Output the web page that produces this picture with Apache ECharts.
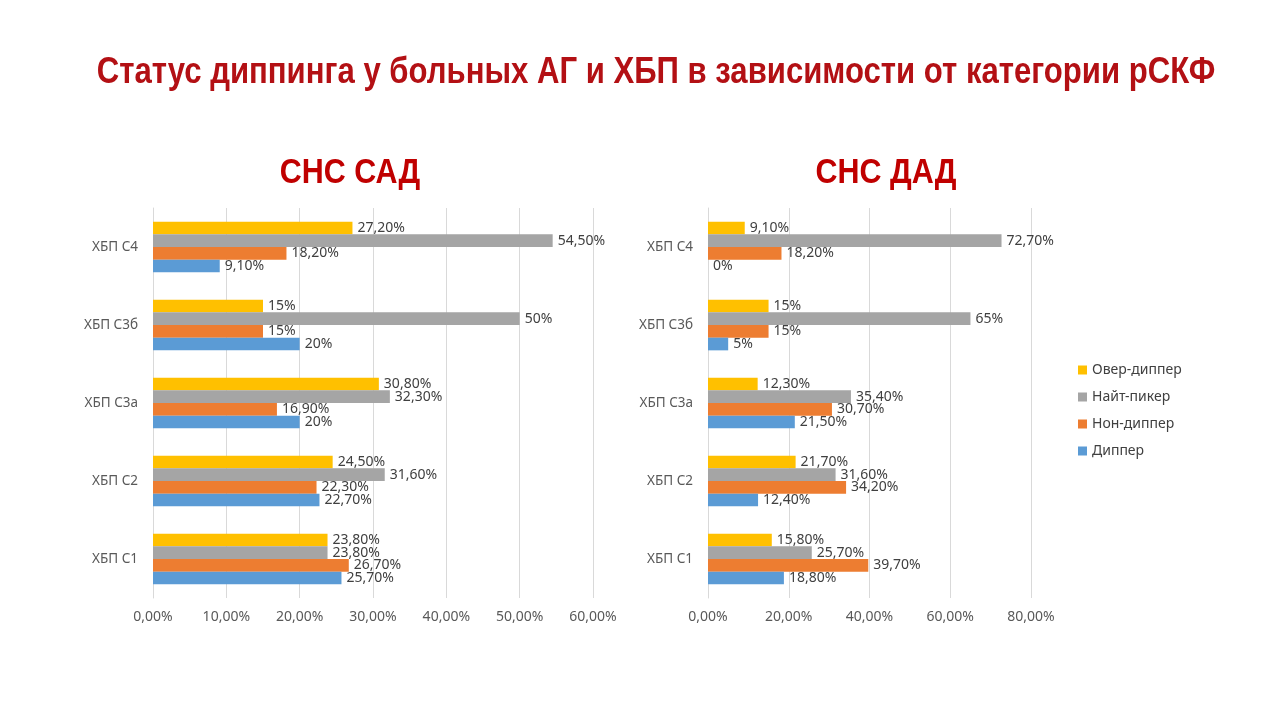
<!DOCTYPE html>
<html lang="ru">
<head>
    <meta charset="UTF-8">
    <title>Статус диппинга</title>
    <script type="text/javascript" src="https://cdn.jsdelivr.net/npm/echarts@6/dist/echarts.min.js"></script>
    <style>
        html, body { margin: 0; padding: 0; background: #ffffff; }
        #main { width: 1280px; height: 720px; }
    </style>
</head>
<body>
<div id="main"></div>
<script>
    // категории снизу вверх
    let categories = ['ХБП С1', 'ХБП С2', 'ХБП С3а', 'ХБП С3б', 'ХБП С4'];
    let seriesNames = ['Овер-диппер', 'Найт-пикер', 'Нон-диппер', 'Диппер'];

    // СНС САД
    let sadOverDipper = [23.8, 24.5, 30.8, 15, 27.2];
    let sadNightPeaker = [23.8, 31.6, 32.3, 50, 54.5];
    let sadNonDipper = [26.7, 22.3, 16.9, 15, 18.2];
    let sadDipper = [25.7, 22.7, 20, 20, 9.1];

    // СНС ДАД
    let dadOverDipper = [15.8, 21.7, 12.3, 15, 9.1];
    let dadNightPeaker = [25.7, 31.6, 35.4, 65, 72.7];
    let dadNonDipper = [39.7, 34.2, 30.7, 15, 18.2];
    let dadDipper = [18.8, 12.4, 21.5, 5, 0];

    let colors = ['#FFC000', '#A5A5A5', '#ED7D31', '#5B9BD5'];

    function pct(v) {
        if (Number.isInteger(v)) return v + '%';
        return v.toFixed(2).replace('.', ',') + '%';
    }

    let txtFont = '"Noto Sans", sans-serif';
    let headFont = 'bold 36px "Liberation Sans", Arial, sans-serif';
    let subFont = 'bold 35px "Liberation Sans", Arial, sans-serif';

    function makeSeries(name, data, idx, color) {
        return {
            name: name,
            type: 'bar',
            xAxisIndex: idx,
            yAxisIndex: idx,
            data: data,
            barGap: '0%',
            barCategoryGap: '35%',
            itemStyle: {color: color},
            label: {
                show: true,
                position: 'right',
                distance: 5,
                color: '#404040',
                fontSize: 14,
                fontFamily: txtFont,
                formatter: p => pct(p.value)
            }
        };
    }

    function xAxis(idx, max, interval) {
        return {
            type: 'value',
            gridIndex: idx,
            min: 0,
            max: max,
            interval: interval,
            axisLine: {show: false},
            axisTick: {show: false},
            splitLine: {lineStyle: {color: '#d9d9d9'}},
            axisLabel: {
                color: '#595959',
                fontSize: 14,
                fontFamily: txtFont,
                margin: 12,
                formatter: v => v.toFixed(2).replace('.', ',') + '%'
            }
        };
    }

    function yAxis(idx) {
        return {
            type: 'category',
            gridIndex: idx,
            data: categories,
            axisLine: {lineStyle: {color: '#d9d9d9'}},
            axisTick: {show: false},
            axisLabel: {color: '#595959', fontSize: 13.5, fontFamily: txtFont, margin: 15}
        };
    }

    // заголовки (узкий жирный шрифт — сжимаем по горизонтали)
    function heading(text, x, y, font, sx, color) {
        return {
            type: 'text',
            x: x, y: y,
            scaleX: sx,
            style: {text: text, x: 0, y: 0, font: font, fill: color,
                align: 'center', verticalAlign: 'middle'}
        };
    }

    var myChart = echarts.init(document.getElementById('main'));
    var option = {
        backgroundColor: '#ffffff',
        animation: false,
        graphic: [
            heading('Статус диппинга у больных АГ и ХБП в зависимости от категории рСКФ', 656, 73, headFont, 0.864, '#B31014'),
            heading('СНС САД', 350, 173, subFont, 0.87, '#C00000'),
            heading('СНС ДАД', 886, 173, subFont, 0.87, '#C00000')
        ],
        legend: {
            orient: 'vertical',
            left: 1073,
            top: 358,
            itemGap: 13,
            itemWidth: 9,
            itemHeight: 9,
            icon: 'rect',
            data: seriesNames,
            textStyle: {color: '#404040', fontSize: 14, fontFamily: txtFont}
        },
        grid: [
            {left: 153, right: 687, top: 208, bottom: 122},
            {left: 708, right: 249, top: 208, bottom: 122}
        ],
        xAxis: [xAxis(0, 60, 10), xAxis(1, 80, 20)],
        yAxis: [yAxis(0), yAxis(1)],
        series: [
            makeSeries(seriesNames[0], sadOverDipper, 0, colors[0]),
            makeSeries(seriesNames[1], sadNightPeaker, 0, colors[1]),
            makeSeries(seriesNames[2], sadNonDipper, 0, colors[2]),
            makeSeries(seriesNames[3], sadDipper, 0, colors[3]),
            makeSeries(seriesNames[0], dadOverDipper, 1, colors[0]),
            makeSeries(seriesNames[1], dadNightPeaker, 1, colors[1]),
            makeSeries(seriesNames[2], dadNonDipper, 1, colors[2]),
            makeSeries(seriesNames[3], dadDipper, 1, colors[3])
        ]
    };
    myChart.setOption(option);
</script>
</body>
</html>
